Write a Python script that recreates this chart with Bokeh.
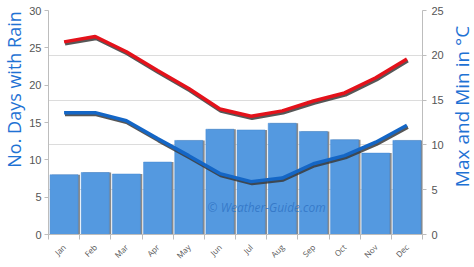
import math
from bokeh.plotting import figure
from bokeh.layouts import row
from bokeh.models import (ColumnDataSource, Range1d, LinearAxis, FixedTicker, Grid, Label)
from bokeh.transform import dodge
from bokeh.embed import file_html
from bokeh.resources import INLINE

months = ["Jan", "Feb", "Mar", "Apr", "May", "Jun", "Jul", "Aug", "Sep", "Oct", "Nov", "Dec"]
rain_days = [8.0, 8.3, 8.1, 9.7, 12.6, 14.1, 14.0, 14.9, 13.8, 12.7, 10.9, 12.6]
max_temp = [21.5, 22.1, 20.4, 18.3, 16.3, 14.0, 13.2, 13.8, 14.9, 15.8, 17.5, 19.6]
min_temp = [13.6, 13.6, 12.7, 10.7, 8.8, 6.8, 5.9, 6.3, 7.9, 8.8, 10.3, 12.2]
left_ticks = [0, 5, 10, 15, 20, 25, 30]
right_ticks = [0, 5, 10, 15, 20, 25]
left_title = "No. Days with Rain"
right_title = "Max and Min in °C"

H = 267
LW, RW = 26, 28
PW = 474 - LW - RW

xpos = list(range(1, len(months) + 1))
src = ColumnDataSource(dict(x=xpos, rain=rain_days, tmax=max_temp, tmin=min_temp))

p = figure(width=PW, height=H, output_backend="svg", toolbar_location=None,
           x_range=Range1d(0.5, 12.5), y_range=Range1d(0, 30),
           min_border_left=17, min_border_right=19, min_border_top=10, min_border_bottom=30)
p.outline_line_color = None
p.background_fill_color = "white"
p.border_fill_color = "white"
p.extra_y_ranges = {"temp": Range1d(0, 25)}

# bars with shadow
p.vbar(x=dodge("x", 0.06, range=p.x_range), top="rain", width=0.9, bottom=0,
       source=src, fill_color="#8a8a8a", line_color=None)
p.vbar(x="x", top="rain", width=0.9, bottom=0, source=src,
       fill_color="#5499e0", line_color="#4489d2", line_width=0.5)

# temperature lines with shadows
for col, color in (("tmax", "#e4121b"), ("tmin", "#1466c6")):
    p.line(x=dodge("x", 0.03, range=p.x_range), y=dodge(col, -0.22, range=p.extra_y_ranges["temp"]),
           source=src, line_color="#3a3a3a", line_width=3.5, y_range_name="temp", line_alpha=0.85)
    p.line(x="x", y=col, source=src, line_color=color, line_width=3.5, y_range_name="temp")

# axes
xa = p.xaxis[0]
xa.ticker = FixedTicker(ticks=xpos, minor_ticks=[v - 0.5 for v in xpos] + [len(xpos) + 0.5])
xa.major_label_overrides = {v: m for v, m in zip(xpos, months)}
xa.major_label_orientation = 0.785
xa.major_label_text_font_size = "8px"
xa.major_label_text_color = "#555555"
xa.major_label_text_font = "Open Sans"
xa.major_tick_line_color = None
xa.minor_tick_line_color = "#bdbdbd"
xa.minor_tick_out = 5
xa.minor_tick_in = 0
xa.axis_line_color = "#bdbdbd"

ya = p.yaxis[0]
ya.ticker = FixedTicker(ticks=left_ticks)
ya.major_label_text_font_size = "11px"
ya.major_label_text_color = "#555555"
ya.major_label_standoff = 3
ya.major_tick_line_color = "#bdbdbd"
ya.major_tick_out = 4
ya.major_tick_in = 0
ya.minor_tick_line_color = None
ya.axis_line_color = "#bdbdbd"

ra = LinearAxis(y_range_name="temp", ticker=FixedTicker(ticks=right_ticks))
ra.major_label_text_font_size = "11px"
ra.major_label_text_color = "#555555"
ra.major_label_standoff = 5
ra.major_tick_line_color = "#bdbdbd"
ra.major_tick_out = 4
ra.major_tick_in = 0
ra.minor_tick_line_color = None
ra.axis_line_color = "#bdbdbd"
p.add_layout(ra, "right")

p.xgrid.visible = False
p.ygrid.visible = False
g = Grid(dimension=1, ticker=ra.ticker, y_range_name="temp", grid_line_color="#dcdcdc")
p.add_layout(g)

p.add_layout(Label(x=7.5, y=3.6, text="© Weather-Guide.com", text_align="center",
                   text_baseline="middle", text_color="#2c6fc0", text_alpha=0.75,
                   text_font_size="12px", text_font="Open Sans", text_font_style="italic"))


def title_panel(width, text, sx, sy, size):
    f = figure(width=width, height=H, output_backend="svg", toolbar_location=None,
               x_axis_location=None, y_axis_location=None,
               min_border=0, min_border_left=0, min_border_right=0,
               min_border_top=0, min_border_bottom=0)
    f.outline_line_color = None
    f.xgrid.visible = False
    f.ygrid.visible = False
    f.add_layout(Label(x=sx, y=sy, x_units="screen", y_units="screen", text=text,
                       angle=math.pi / 2, text_align="center", text_baseline="middle",
                       text_color="#1f72d4", text_font_size=size, text_font="Open Sans"))
    return f


lt = title_panel(LW, left_title, 13, H - 122, "18px")
rt = title_panel(RW, right_title, 15, H - 139, "19px")

layout = row(lt, p, rt, spacing=0)
open("out.html", "w").write(file_html(layout, INLINE))
